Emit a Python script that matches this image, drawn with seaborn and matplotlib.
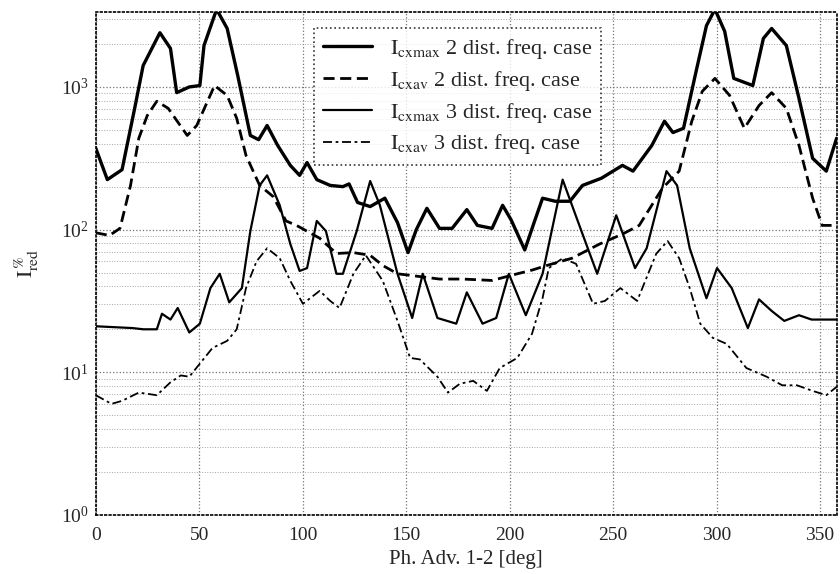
import numpy as np
import pandas as pd
import matplotlib
matplotlib.use("Agg")
import matplotlib.pyplot as plt
import seaborn as sns
from matplotlib.ticker import LogLocator, LogFormatterMathtext

# ---- data ----
x_max2 = [0, 5.6, 12.7, 18.8, 22.9, 31, 36.1, 39.1, 45.2, 50.3, 52.3, 58.4, 63.5, 68.6, 74.7,
          78.7, 82.8, 87.9, 94, 98.5, 102.1, 106.8, 113.3, 119.4, 122.4, 126.5, 132.6, 139.7,
          145.8, 150.9, 154.9, 160, 166.1, 172.2, 179.3, 184.4, 191.5, 196.6, 200.7, 207.3,
          211.8, 215.9, 222, 229.1, 235.2, 244.3, 254.5, 259.6, 268.7, 274.8, 278.9, 284,
          290.1, 295.1, 299.2, 303.9, 308.3, 317.5, 322.6, 326.6, 333.7, 339.8, 346.4, 353, 358]
y_max2 = [372, 224, 263, 708, 1413, 2399, 1862, 912, 1000, 1023, 1950, 3500, 2570, 1202, 457,
          427, 537, 389, 282, 240, 295, 224, 204, 200, 209, 155, 145, 166, 112, 69, 100, 141,
          102, 102, 138, 107, 102, 148, 117, 72, 112, 166, 158, 158, 204, 229, 282, 257, 389,
          575, 479, 513, 1288, 2692, 3500, 2455, 1148, 1023, 2188, 2570, 1950, 832, 316, 257, 437]

x_av2 = [0, 6.6, 11.7, 16.8, 20.8, 24.9, 29.5, 35.0, 44.2, 48.8, 57.4, 63.5, 68.1, 72.6, 79.2,
         85.8, 91.9, 97.0, 108.2, 116.3, 124.5, 132.6, 138.7, 145.8, 155.9, 166.1, 177.3, 191.5,
         203.7, 210.8, 217.9, 230.1, 243.3, 254.5, 262.6, 273.8, 281.9, 288.0, 293.1, 299.2,
         306.3, 313.4, 320.5, 326.6, 333.7, 339.8, 346.4, 351.0, 358]
y_av2 = [95, 91, 102, 204, 437, 631, 794, 708, 457, 537, 1023, 871, 603, 331, 204, 170, 115,
         107, 87, 68, 69, 66, 56, 49, 47, 45, 45, 44, 49, 52, 56, 63, 79, 93, 107, 195, 257,
         575, 933, 1148, 871, 513, 741, 912, 708, 389, 166, 107, 107]

x_max3 = [0, 17.8, 22.9, 29.5, 32.0, 36.1, 39.6, 45.2, 50.3, 55.4, 59.9, 64.5, 70.6, 74.7, 79.2,
          82.8, 88.9, 94.0, 98.5, 102.1, 106.8, 111.2, 116.3, 119.4, 126.1, 132.6, 137.3, 145.8,
          152.9, 158.0, 165.1, 174.2, 179.3, 186.9, 193.5, 199.6, 207.8, 215.9, 225.6, 234.2,
          242.3, 251.5, 260.6, 266.2, 275.8, 280.9, 287.0, 295.1, 300.2, 307.3, 315.1, 320.5,
          326.6, 332.7, 339.8, 345.9, 358]
y_max3 = [21, 20.4, 20, 20, 25.7, 23.4, 28.2, 19, 21.9, 38.9, 49, 30.9, 38.9, 97.7, 204, 240,
          148, 79.4, 51.3, 53.7, 115, 97.7, 49, 49, 97.7, 219, 148, 49, 24, 49, 24, 21.9, 36.3,
          21.9, 24, 49, 25.1, 49, 224, 102, 49, 126, 53.7, 74, 257, 204, 74, 33, 53.7, 38.9,
          20.4, 32.4, 26.9, 22.9, 25.1, 23.4, 23.4]

x_av3 = [0, 7.6, 12.7, 20.8, 29.5, 36.1, 41.1, 45.2, 56.4, 63.5, 68.1, 72.6, 77.7, 82.8, 88.9,
         94.0, 100.1, 108.2, 113.3, 117.8, 124.5, 130.5, 138.7, 145.8, 151.9, 156.6, 165.1,
         170.2, 175.9, 182.4, 189.0, 195.2, 203.7, 210.8, 215.9, 218.9, 225.6, 232.1, 240.3,
         246.0, 253.5, 261.6, 270.8, 276.3, 281.9, 287.0, 292.1, 298.2, 304.9, 314.4, 324.2,
         331.7, 338.8, 346.4, 353.0, 358]
y_av3 = [6.9, 6.0, 6.3, 7.2, 6.9, 8.5, 9.5, 9.3, 14.8, 16.6, 20, 38.9, 60, 74, 63, 43.7, 30.2,
         37.2, 31.6, 28.2, 49, 66, 43.7, 22.9, 12.6, 12.3, 9.3, 7.2, 8.3, 8.7, 7.4, 10.7, 12.6,
         18.6, 33.1, 53.7, 63, 57.5, 30.2, 31.6, 38.9, 31.6, 67.6, 83.2, 63, 38.9, 21.9, 17.4,
         15.8, 10.7, 9.3, 8.1, 8.1, 7.4, 6.9, 7.9]

labels = [r"$\mathrm{I}_{\mathrm{cxmax}}$ 2 dist. freq. case",
          r"$\mathrm{I}_{\mathrm{cxav}}$ 2 dist. freq. case",
          r"$\mathrm{I}_{\mathrm{cxmax}}$ 3 dist. freq. case",
          r"$\mathrm{I}_{\mathrm{cxav}}$ 3 dist. freq. case"]
x_ticks = [0, 50, 100, 150, 200, 250, 300, 350]
x_label = "Ph. Adv. 1-2 [deg]"
y_label = r"$\mathrm{I}_{\mathrm{red}}^{\,\%}$"

# ---- style ----
sns.set_style("white")
plt.rcParams["font.family"] = ["Liberation Serif", "DejaVu Serif"]
plt.rcParams["mathtext.fontset"] = "stix"

fig = plt.figure(figsize=(8.4, 5.74), dpi=100)
ax = fig.add_axes([0.114, 0.103, 0.882, 0.876])

series = [(x_max2, y_max2, "-", 2.4),
          (x_av2, y_av2, (0, (4, 2)), 2.0),
          (x_max3, y_max3, "-", 1.6),
          (x_av3, y_av3, (0, (5, 2, 1.5, 2)), 1.3)]
for (xs, ys, ls, lw), lab in zip(series, labels):
    df = pd.DataFrame({"x": xs, "y": ys})
    sns.lineplot(data=df, x="x", y="y", ax=ax, color="black", linestyle=ls,
                 linewidth=lw, label=lab, estimator=None, sort=False)

ax.set_yscale("log")
ax.set_xlim(0, 358)
ax.set_ylim(1, 3350)
ax.set_xticks(x_ticks)
ax.yaxis.set_major_locator(LogLocator(base=10, numticks=10))
ax.yaxis.set_major_formatter(LogFormatterMathtext())
ax.yaxis.set_minor_locator(LogLocator(base=10, subs=np.arange(2, 10), numticks=20))
ax.grid(True, which="major", linestyle=":", color="0.45", linewidth=0.9)
ax.grid(True, which="minor", axis="y", linestyle=":", color="0.65", linewidth=0.7)
ax.tick_params(axis="both", which="major", labelsize=14, length=0)
ax.tick_params(axis="x", which="major", pad=9)
ax.tick_params(axis="y", which="major", pad=5)
ax.tick_params(axis="y", which="minor", length=0)

for sp in ax.spines.values():
    sp.set_linestyle(":")
    sp.set_linewidth(1.2)
    sp.set_color("black")

ax.set_xlabel(x_label, fontsize=15, labelpad=4)
ax.set_ylabel(y_label, fontsize=16, labelpad=14)

leg = ax.legend(loc="upper left", bbox_to_anchor=(0.28, 0.99), fontsize=16,
                frameon=True, fancybox=False, handlelength=2.2, borderpad=0.4,
                labelspacing=0.35, handletextpad=0.8)
leg.get_frame().set_edgecolor("black")
leg.get_frame().set_linestyle(":")
leg.get_frame().set_linewidth(1.2)

fig.savefig("out.png", dpi=100)
